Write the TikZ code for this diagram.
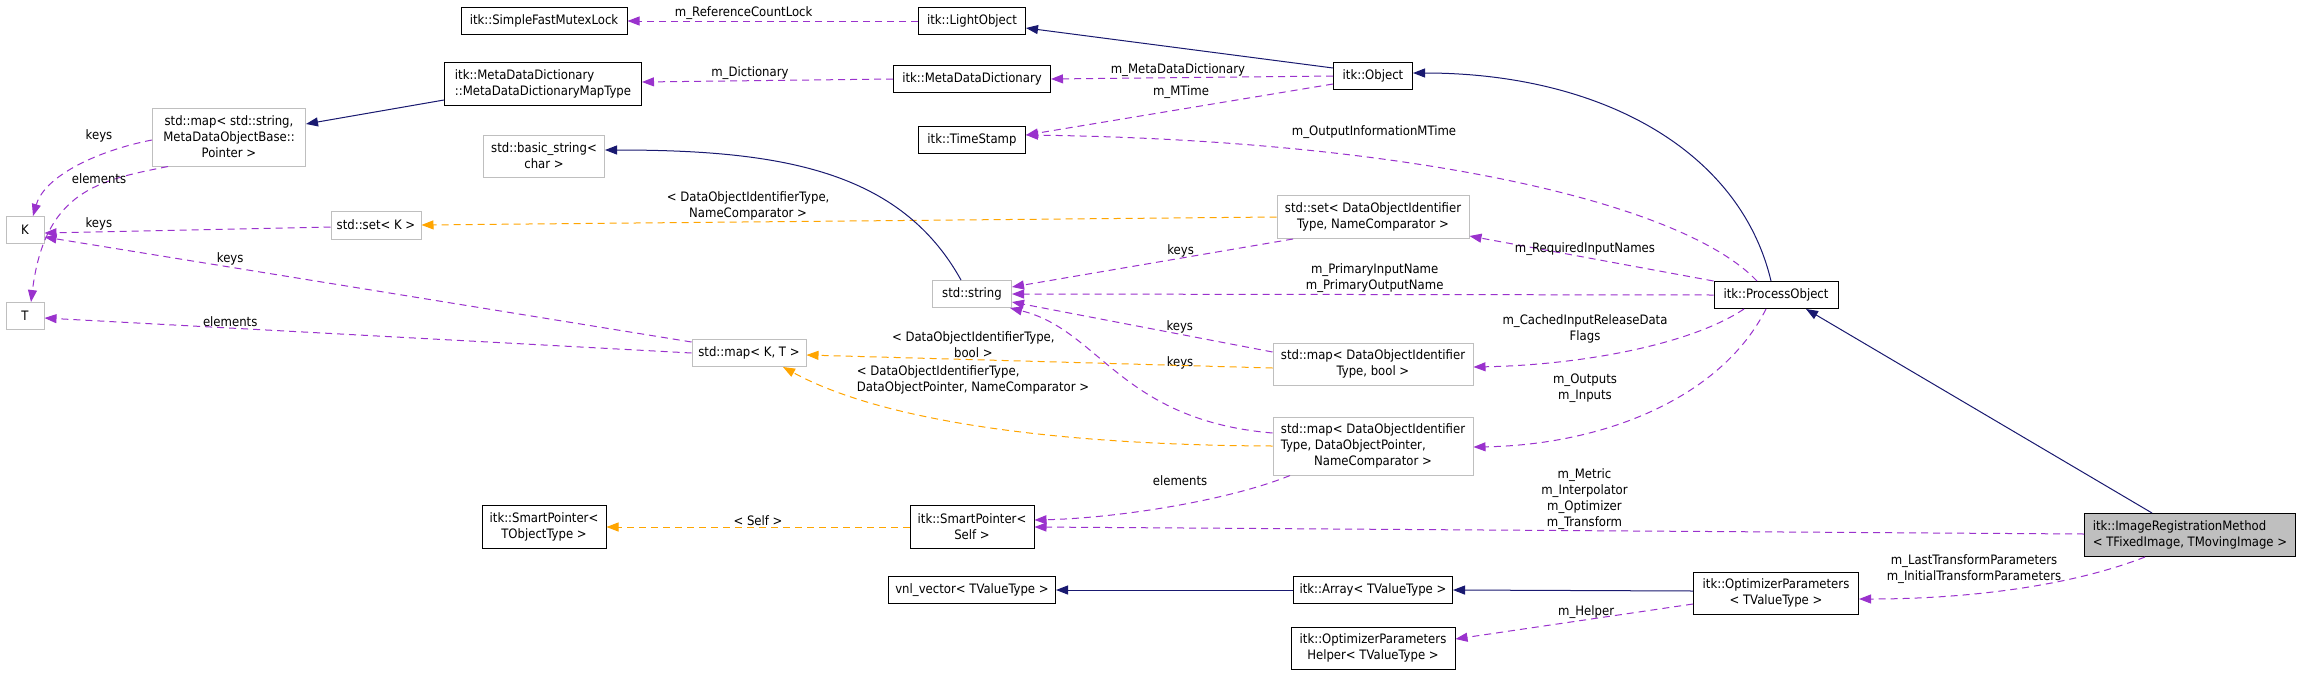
\documentclass[tikz,border=0pt]{standalone}
\usepackage{fontspec}
\setmainfont{DejaVu Sans Condensed}
\usetikzlibrary{arrows.meta}
\definecolor{usecol}{HTML}{9A32CD}
\definecolor{inhcol}{HTML}{191970}
\definecolor{tplcol}{HTML}{FFA500}
\definecolor{extgray}{HTML}{BFBFBF}
\newcommand\dxfont{\fontsize{13}{16}\selectfont}
\tikzset{clsbox/.style={draw=black,fill=white,line width=1pt,inner sep=2pt,font=\dxfont,align=center,minimum height=27pt},extbox/.style={clsbox,draw=extgray},curbox/.style={clsbox,fill=extgray},usedge/.style={-{Triangle[length=12pt,width=9pt]},line width=1pt,draw=usecol,dash pattern=on 7pt off 5pt},inhedge/.style={-{Triangle[length=12pt,width=9pt]},line width=1pt,draw=inhcol},tpledge/.style={usedge,draw=tplcol},lab/.style={font=\dxfont,align=center,inner sep=1pt}}

\begin{document}
\begin{tikzpicture}[x=1pt,y=-1pt]
\path[use as bounding box,fill=white] (0,0) rectangle (2301,675);
\node[clsbox,minimum width=166pt] (mutex) at (544,21) {itk::SimpleFastMutexLock};
\node[clsbox,minimum width=107pt] (light) at (972,21) {itk::LightObject};
\node[clsbox,minimum width=197pt,minimum height=43pt,align=left] (mddmap) at (543,84) {itk::MetaDataDictionary\\::MetaDataDictionaryMapType};
\node[clsbox,minimum width=157pt] (mdd) at (972,79) {itk::MetaDataDictionary};
\node[clsbox,minimum width=79pt] (obj) at (1373,76) {itk::Object};
\node[extbox,minimum width=153pt,minimum height=58pt] (mapstr) at (229,137) {std::map< std::string,\\MetaDataObjectBase::\\Pointer >};
\node[clsbox,minimum width=107pt] (tstamp) at (972,140) {itk::TimeStamp};
\node[extbox,minimum width=121pt,minimum height=42pt] (bstr) at (544,156) {std::basic\_string<\\char >};
\node[extbox,minimum width=192pt,minimum height=43pt] (setdoi) at (1373,217) {std::set< DataObjectIdentifier\\Type, NameComparator >};
\node[extbox,minimum width=38pt] (K) at (25,230) {K};
\node[extbox,minimum width=90pt,minimum height=28pt] (setk) at (376,225) {std::set< K >};
\node[extbox,minimum width=79pt] (str) at (972,294) {std::string};
\node[clsbox,minimum width=124pt] (proc) at (1776,295) {itk::ProcessObject};
\node[extbox,minimum width=38pt] (T) at (25,316) {T};
\node[extbox,minimum width=114pt] (mapkt) at (749,353) {std::map< K, T >};
\node[extbox,minimum width=200pt,minimum height=42pt] (mapbool) at (1373,364) {std::map< DataObjectIdentifier\\Type, bool >};
\node[extbox,minimum width=200pt,minimum height=58pt] (mapdop) at (1373,446) {\begin{tabular}{@{}l@{}}std::map< DataObjectIdentifier\\Type, DataObjectPointer,\\\multicolumn{1}{@{}c@{}}{NameComparator >}\end{tabular}};
\node[clsbox,minimum width=124pt,minimum height=43pt] (spobj) at (544,527) {itk::SmartPointer<\\TObjectType >};
\node[clsbox,minimum width=124pt,minimum height=43pt] (spself) at (972,527) {itk::SmartPointer<\\Self >};
\node[curbox,minimum width=211pt,minimum height=43pt,align=left] (irm) at (2190,535) {itk::ImageRegistrationMethod\\< TFixedImage, TMovingImage >};
\node[clsbox,minimum width=167pt] (vnl) at (972,590) {vnl\_vector< TValueType >};
\node[clsbox,minimum width=159pt] (itkarr) at (1373,590) {itk::Array< TValueType >};
\node[clsbox,minimum width=165pt,minimum height=42pt] (optp) at (1776,593) {itk::OptimizerParameters\\< TValueType >};
\node[clsbox,minimum width=164pt,minimum height=42pt] (opth) at (1373,648) {itk::OptimizerParameters\\Helper< TValueType >};
\draw[usedge] (light.west)--node[lab,above,pos=0.6]{m\_ReferenceCountLock}(mutex.east);
\draw[inhedge] ([yshift=8pt]obj.west)--([yshift=-7pt]light.east);
\draw[usedge] (obj.west)--node[lab,above,pos=0.55]{m\_MetaDataDictionary}(mdd.east);
\draw[usedge] ([yshift=-8pt]obj.west)--([yshift=5pt]tstamp.east);
\node[lab] (lmtime) at (1181,92) {m\_MTime};
\draw[usedge] (mdd.west)--node[lab,above,pos=0.57]{m\_Dictionary}([yshift=2pt]mddmap.east);
\draw[inhedge] ([yshift=-16pt]mddmap.west)--([yshift=13pt]mapstr.east);
\draw[usedge] ([yshift=-3pt]mapstr.west) .. controls (100,150) and (45,175) .. ([xshift=8pt]K.north);
\node[lab] (lkeys1) at (99,136) {keys};
\draw[usedge] ([xshift=-61pt]mapstr.south) .. controls (100,180) and (45,190) .. ([xshift=6pt]T.north);
\node[lab] (lelem1) at (99,179) {elements};
\draw[usedge] ([yshift=-2pt]setk.west)--node[lab,above,pos=0.81]{keys}([yshift=-3pt]K.east);
\draw[usedge] ([yshift=11pt]mapkt.west)--node[lab,above,pos=0.713]{keys}([yshift=-7pt]K.east);
\draw[usedge] (mapkt.west)--node[lab,above,pos=0.713]{elements}([yshift=-2pt]T.east);
\draw[tpledge] (setdoi.west)--node[lab,above,pos=0.618]{< DataObjectIdentifierType,\\NameComparator >}(setk.east);
\draw[inhedge] ([xshift=-11pt]str.north) .. controls (900,170) and (780,150) .. ([yshift=6pt]bstr.east);
\draw[usedge] ([xshift=-80pt]setdoi.south)--node[lab,above,pos=0.4]{keys}([yshift=7pt]str.east);
\draw[usedge] (proc.west)--node[lab,above,pos=0.483]{m\_PrimaryInputName\\m\_PrimaryOutputName}(str.east);
\draw[usedge] ([yshift=12pt]mapbool.west)--node[lab,above,pos=0.356]{keys}([yshift=-8pt]str.east);
\draw[usedge] ([yshift=13pt]mapdop.west) .. controls (1120,420) and (1100,330) .. ([xshift=-2pt]str.south east);
\node[lab] (lkeys5) at (1180,363) {keys};
\draw[tpledge] ([yshift=-4pt]mapbool.west)--node[lab,above,pos=0.642]{< DataObjectIdentifierType,\\bool >}([yshift=-2pt]mapkt.east);
\draw[tpledge] (mapdop.west) .. controls (1050,445) and (880,420) .. ([xshift=34pt]mapkt.south);
\node[lab,align=left] (ldop) at (973,380) {< DataObjectIdentifierType,\\DataObjectPointer, NameComparator >};
\draw[usedge] (proc.north west)--node[lab,above,pos=0.527]{m\_RequiredInputNames}([yshift=3pt]setdoi.south east);
\draw[usedge] ([xshift=-19pt]proc.north) .. controls (1680,200) and (1400,140) .. ([yshift=5pt]tstamp.east);
\node[lab] (loutm) at (1374,132) {m\_OutputInformationMTime};
\draw[inhedge] ([xshift=-5pt]proc.north) .. controls (1740,150) and (1600,73) .. ([yshift=3pt]obj.east);
\draw[usedge] ([xshift=-32pt]proc.south) .. controls (1690,345) and (1580,365) .. ([yshift=-3pt]mapbool.east);
\node[lab] (lcached) at (1585,329) {m\_CachedInputReleaseData\\Flags};
\draw[usedge] ([xshift=-10pt]proc.south) .. controls (1720,400) and (1600,445) .. ([yshift=-1pt]mapdop.east);
\node[lab] (linout) at (1585,388) {m\_Outputs\\m\_Inputs};
\draw[usedge] ([xshift=-83pt]mapdop.south) .. controls (1230,500) and (1120,518) .. ([yshift=7pt]spself.east);
\node[lab] (lelem2) at (1180,481) {elements};
\draw[usedge] ([yshift=1pt]irm.west)--node[lab,above,pos=0.476]{m\_Metric\\m\_Interpolator\\m\_Optimizer\\m\_Transform}(spself.east);
\draw[tpledge] (spself.west)--node[lab,above]{< Self >}(spobj.east);
\draw[inhedge] ([xshift=-38pt]irm.north)--([xshift=30pt]proc.south);
\draw[usedge] ([xshift=-45pt]irm.south) .. controls (2060,590) and (1950,599) .. ([yshift=-6pt]optp.east);
\node[lab] (lparams) at (1974,569) {m\_LastTransformParameters\\m\_InitialTransformParameters};
\draw[inhedge] ([yshift=2pt]optp.west)--(itkarr.east);
\draw[inhedge] (itkarr.west)--(vnl.east);
\draw[usedge] ([yshift=-11pt]optp.west)--node[lab,above,pos=0.45]{m\_Helper}([yshift=9pt]opth.east);
\end{tikzpicture}
\end{document}
